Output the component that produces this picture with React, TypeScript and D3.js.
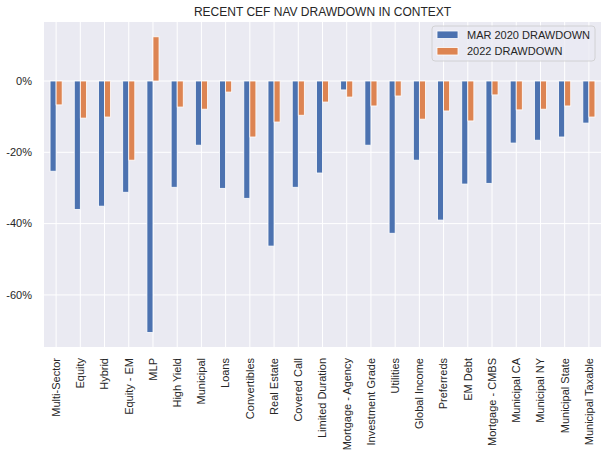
import React from "react";
import * as d3 from "d3";

const categories = [
  "Multi-Sector", "Equity", "Hybrid", "Equity - EM", "MLP", "High Yield", "Municipal", "Loans",
  "Convertibles", "Real Estate", "Covered Call", "Limited Duration", "Mortgage - Agency",
  "Investment Grade", "Utilities", "Global Income", "Preferreds", "EM Debt", "Mortgage - CMBS",
  "Municipal CA", "Municipal NY", "Municipal State", "Municipal Taxable",
];
const mar2020 = [
  -25.3, -36.0, -35.1, -31.2, -70.5, -29.8, -18.0, -30.1, -32.9, -46.3, -29.8, -25.8, -2.5,
  -18.0, -42.7, -22.2, -39.0, -28.9, -28.7, -17.4, -16.6, -15.7, -11.8,
];
const dd2022 = [
  -6.7, -10.4, -10.1, -22.2, 12.4, -7.3, -7.9, -3.1, -15.7, -11.5, -9.6, -5.9, -4.5,
  -7.0, -4.2, -10.7, -8.4, -11.2, -3.9, -8.1, -7.9, -7.0, -10.1,
];
const seriesNames = ["MAR 2020 DRAWDOWN", "2022 DRAWDOWN"];
const yTicks = [0, -20, -40, -60];

const W = 613, H = 457;
const L = 44, R = 601, T = 22, B = 347;
const colors = ["#4c72b0", "#dd8452"];
const font = "'Liberation Sans', Arial, sans-serif";

export default function App() {
  const x = d3.scaleLinear().domain([-0.5, categories.length - 0.5]).range([L, R]);
  const y = d3.scaleLinear().domain([-74.6, 16.55]).range([B, T]);
  const bw = 0.25;
  const series = [mar2020, dd2022];

  return (
    <svg width={W} height={H} style={{ position: "absolute", left: 0, top: 0, background: "#fff" }} fontFamily={font}>
      <rect x={L} y={T} width={R - L} height={B - T} fill="#eaeaf2" />
      {yTicks.map((t) => (
        <line key={"gy" + t} x1={L} x2={R} y1={y(t)} y2={y(t)} stroke="#fff" strokeWidth={1} />
      ))}
      {categories.map((c, i) => (
        <line key={"gx" + i} x1={x(i)} x2={x(i)} y1={T} y2={B} stroke="#fff" strokeWidth={1} />
      ))}
      {series.map((vals, s) =>
        vals.map((v, i) => {
          const x0 = x(i - bw + s * bw);
          const x1 = x(i + s * bw);
          const y0 = y(Math.max(0, v));
          const y1 = y(Math.min(0, v));
          return (
            <rect key={s + "-" + i} x={x0} y={y0} width={x1 - x0} height={y1 - y0}
              fill={colors[s]} stroke="#fff" strokeWidth={0.8} />
          );
        })
      )}
      {yTicks.map((t) => (
        <text key={"yt" + t} x={L - 12} y={y(t)} dy="0.35em" textAnchor="end" fontSize={11} fill="#262626">
          {t === 0 ? "0%" : "-" + Math.abs(t) + "%"}
        </text>
      ))}
      {categories.map((c, i) => (
        <text key={"xt" + i} transform={`translate(${x(i)},${B + 11}) rotate(-90)`} dy="0.35em"
          textAnchor="end" fontSize={11} fill="#262626">{c}</text>
      ))}
      <text x={(L + R) / 2} y={16} textAnchor="middle" fontSize={12} fill="#262626">
        RECENT CEF NAV DRAWDOWN IN CONTEXT
      </text>
      <g>
        <rect x={432} y={26} width={163} height={35} rx={3} fill="#eaeaf2" fillOpacity={0.8} stroke="#cccccc" strokeWidth={0.8} />
        {seriesNames.map((n, s) => (
          <g key={n}>
            <rect x={437} y={31 + s * 16.5} width={21} height={7.5} fill={colors[s]} stroke="#fff" strokeWidth={0.8} />
            <text x={467} y={35 + s * 16.5} dy="0.35em" fontSize={11} fill="#262626">{n}</text>
          </g>
        ))}
      </g>
    </svg>
  );
}
